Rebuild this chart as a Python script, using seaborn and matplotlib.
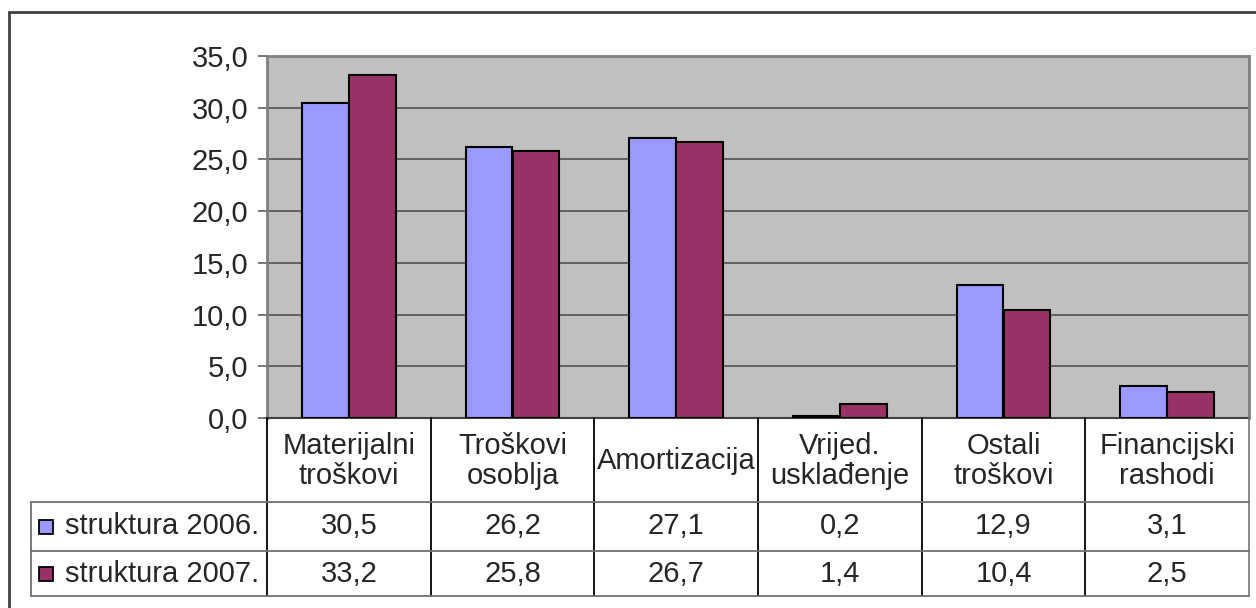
import numpy as np
import pandas as pd
import matplotlib
matplotlib.use('Agg')
import matplotlib.pyplot as plt
import matplotlib.transforms as mtransforms
from matplotlib.lines import Line2D
from matplotlib.patches import Rectangle
import seaborn as sns

# podaci
categories = ['Materijalni\ntroškovi', 'Troškovi\nosoblja', 'Amortizacija',
              'Vrijed.\nusklađenje', 'Ostali\ntroškovi', 'Financijski\nrashodi']
series_names = ['struktura 2006.', 'struktura 2007.']
values_2006 = [30.5, 26.2, 27.1, 0.2, 12.9, 3.1]
values_2007 = [33.2, 25.8, 26.7, 1.4, 10.4, 2.5]
y_ticks = [0, 5, 10, 15, 20, 25, 30, 35]
colors = ['#9999FF', '#993366']

df = pd.DataFrame({
    'kategorija': categories * 2,
    'serija': [series_names[0]] * len(categories) + [series_names[1]] * len(categories),
    'vrijednost': values_2006 + values_2007,
})

sns.set_style('white')
plt.rcParams['font.family'] = ['Liberation Sans', 'DejaVu Sans']

W, H = 1256, 608
FS = 21


def fx(px):
    return px / W


def fy(py):
    return 1 - py / H


def fmt(v):
    return f'{v:.1f}'.replace('.', ',')


fig = plt.figure(figsize=(W / 100, H / 100), dpi=100)
ax = fig.add_axes([fx(267), fy(418), fx(1249) - fx(267), fy(56) - fy(418)])

sns.barplot(data=df, x='kategorija', y='vrijednost', hue='serija', palette=colors,
            width=0.574, gap=0, edgecolor='black', linewidth=1.5, saturation=1,
            legend=False, ax=ax, zorder=3)

ax.set_facecolor('#C0C0C0')
ax.set_xlim(-0.5, len(categories) - 0.5)
ax.set_ylim(0, 35)
ax.set_yticks(y_ticks)
ax.set_yticklabels([fmt(v) for v in y_ticks], fontsize=FS)
ax.yaxis.grid(True, color='#5a5a5a', linewidth=1.3, zorder=0)
ax.set_axisbelow(True)
ax.set_xticks([])
ax.set_xlabel('')
ax.set_ylabel('')
ax.tick_params(axis='y', left=True, length=6.5, width=1.2, color='#606060', pad=7)
for side in ['top', 'right', 'left']:
    ax.spines[side].set_color('#808080')
    ax.spines[side].set_linewidth(2)
ax.spines['bottom'].set_color('#404040')
ax.spines['bottom'].set_linewidth(1.5)

# tablica podataka ispod grafa
trans = mtransforms.blended_transform_factory(ax.transData, fig.transFigure)
row_top, row_mid, row_bot = 502, 551, 596
n = len(categories)

# vertikalne linije stupaca
for i in range(n + 1):
    fig.add_artist(Line2D([i - 0.5, i - 0.5], [fy(418), fy(row_bot)], transform=trans,
                          color='black' if i < n else '#808080', linewidth=1.3))
# horizontalne linije
for yy in [row_top, row_mid, row_bot]:
    fig.add_artist(Line2D([fx(31), fx(1249)], [fy(yy), fy(yy)], transform=fig.transFigure,
                          color='#707070', linewidth=1.3))
fig.add_artist(Line2D([fx(31), fx(31)], [fy(row_top), fy(row_bot)], transform=fig.transFigure,
                      color='#707070', linewidth=1.3))

# nazivi kategorija
for i, cat in enumerate(categories):
    fig.text(i, fy(461), cat, transform=trans, ha='center', va='center',
             fontsize=FS, linespacing=1.1)

# vrijednosti i legenda
row_centers = [(row_top + row_mid) / 2, (row_mid + row_bot) / 2]
for vals, name, col, yc in zip([values_2006, values_2007], series_names, colors, row_centers):
    for i, v in enumerate(vals):
        fig.text(i, fy(yc), fmt(v), transform=trans, ha='center', va='center', fontsize=FS)
    fig.add_artist(Rectangle((fx(39), fy(yc + 7)), fx(14), 14 / H, transform=fig.transFigure,
                             facecolor=col, edgecolor='black', linewidth=1.3))
    fig.text(fx(65), fy(yc), name, ha='left', va='center', fontsize=FS)

# okvir grafikona
fig.add_artist(Line2D([fx(9), fx(9)], [fy(12), 0], transform=fig.transFigure,
                      color='#404040', linewidth=2))
fig.add_artist(Line2D([fx(9), 1], [fy(12), fy(12)], transform=fig.transFigure,
                      color='#404040', linewidth=2))

fig.savefig('out.png', dpi=100)
